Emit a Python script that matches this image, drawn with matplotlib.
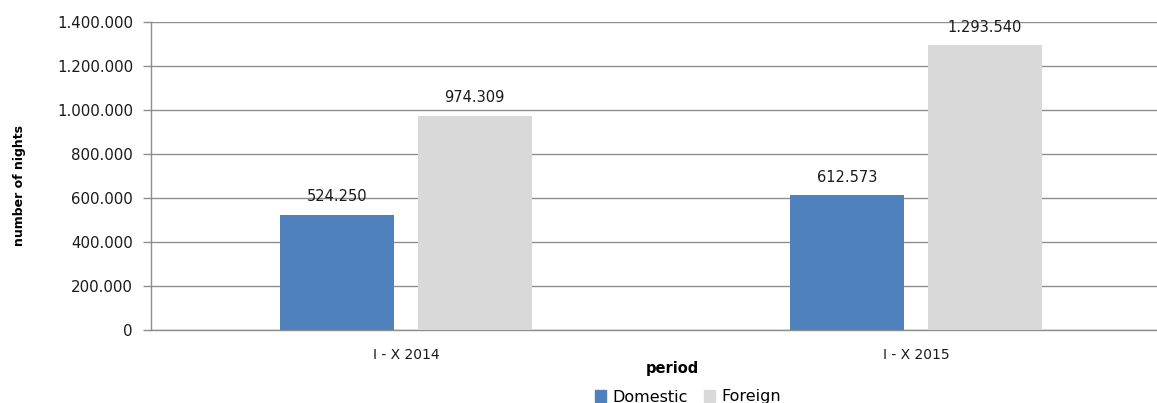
import matplotlib
matplotlib.use("Agg")
import matplotlib.pyplot as plt
import matplotlib.patches as mpatches
import numpy as np

# ── data ──────────────────────────────────────────────────────────────────────
periods  = ["I - X 2014", "I - X 2015"]
domestic = [524250, 612573]
foreign  = [974309, 1293540]
y_ticks  = [0, 200000, 400000, 600000, 800000, 1000000, 1200000, 1400000]

BLUE = "#4F81BD"
GREY = "#D9D9D9"
LINE = "#8E8E8E"


def dots(v):
    return f"{int(v):,}".replace(",", ".")


# ── plot ──────────────────────────────────────────────────────────────────────
plt.rcParams["font.family"] = ["DejaVu Sans"]

fig = plt.figure(figsize=(11.57, 4.03), dpi=100)
ax = fig.add_axes([151 / 1157, 1 - 330 / 403, 1 - 151 / 1157, 308 / 403])

x = np.arange(len(periods))
w, off = 0.2235, 0.1345
b1 = ax.bar(x - off, domestic, w, color=BLUE, zorder=3, label="Domestic")
b2 = ax.bar(x + off, foreign, w, color=GREY, zorder=3, label="Foreign")

for bars, vals in ((b1, domestic), (b2, foreign)):
    for r, v in zip(bars, vals):
        ax.annotate(dots(v), (r.get_x() + r.get_width() / 2, v),
                    xytext=(0, 13), textcoords="offset points",
                    ha="center", va="center", fontsize=10.5, color="#1a1a1a")

ax.set_xlim(-0.5, 1.4725)
ax.set_ylim(0, 1400000)
ax.set_yticks(y_ticks)
ax.set_yticklabels([dots(t) for t in y_ticks], fontsize=10.8, color="#1a1a1a")
ax.set_xticks(x)
ax.set_xticklabels(periods, fontsize=10, color="#1a1a1a")
ax.tick_params(axis="y", length=6, color=LINE, width=1, pad=7)
ax.tick_params(axis="x", length=0, pad=13)

ax.grid(axis="y", color=LINE, linewidth=1.0, zorder=0)
for s in ("top", "right"):
    ax.spines[s].set_visible(False)
for s in ("left", "bottom"):
    ax.spines[s].set_color(LINE)
    ax.spines[s].set_linewidth(1.0)

fig.text(20 / 1157, 1 - 185 / 403, "number of nights", rotation=90,
         ha="center", va="center", fontsize=9, fontweight="bold")
fig.text(672 / 1157, 1 - 368 / 403, "period", ha="center", va="center",
         fontsize=10.5, fontweight="bold")

handles = [mpatches.Patch(color=BLUE), mpatches.Patch(color=GREY)]
fig.legend(handles, ["Domestic", "Foreign"], loc="center",
           bbox_to_anchor=(688 / 1157, 1 - 397 / 403), ncol=2, frameon=False,
           fontsize=11.5, handlelength=0.7, handleheight=0.7,
           handletextpad=0.4, columnspacing=1.0)

fig.savefig("out.png", dpi=100)
plt.close(fig)
